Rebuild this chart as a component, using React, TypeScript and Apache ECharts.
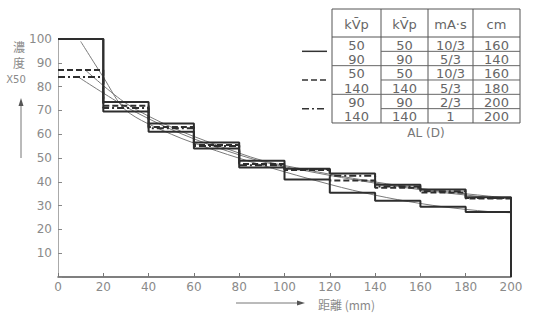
import React, { useEffect, useRef } from "react";
import * as echarts from "echarts";

const binEdges = [0, 20, 40, 60, 80, 100, 120, 140, 160, 180, 200];
const solidHigh = [100, 73.5, 64.5, 56.5, 48.8, 45.5, 43.5, 38.8, 36.8, 33.5];
const solidLow = [100, 69.5, 61, 54, 46, 41, 35.4, 32, 29.5, 27.3];
const dashed = [87, 72, 63, 55.5, 47.5, 45, 40.5, 37.5, 35.5, 33];
const dashDot = [84, 71, 62.5, 55, 47, 45.3, 42.5, 38, 36, 33.2];

const fitA = [[10, 99], [20, 84], [30, 70], [50, 60], [70, 53], [90, 47], [110, 41.5], [130, 36.5], [150, 32.5], [170, 29.5], [190, 27.5], [200, 27]];
const fitB = [[12, 87], [30, 73], [50, 63], [70, 55.5], [90, 49], [110, 45], [130, 41.5], [150, 38.5], [170, 36], [190, 34], [200, 33]];
const fitC = [[9, 84], [30, 71.5], [50, 62], [70, 54.5], [90, 48.5], [110, 44.5], [130, 41], [150, 38], [170, 35.5], [190, 33.5], [200, 33]];

const xTicks = [0, 20, 40, 60, 80, 100, 120, 140, 160, 180, 200];
const yTicks = [10, 20, 30, 40, 50, 60, 70, 80, 90, 100];

const tableHeader = ["kV\u0304p", "kV\u0304p", "mA·s", "cm"];
const tableRows = [
  ["50", "50", "10/3", "160"],
  ["90", "90", "5/3", "140"],
  ["50", "50", "10/3", "160"],
  ["140", "140", "5/3", "180"],
  ["90", "90", "2/3", "200"],
  ["140", "140", "1", "200"],
];
const tableCaption = "AL (D)";

function stepPoints(vals: number[]) {
  const pts: number[][] = [];
  vals.forEach((v, i) => {
    pts.push([binEdges[i], v]);
    pts.push([binEdges[i + 1], v]);
  });
  return pts;
}

export default function App() {
  const ref = useRef<HTMLDivElement>(null);
  useEffect(() => {
    if (!ref.current) return;
    const chart = echarts.init(ref.current, null, { renderer: "svg" });
    const txtColor = "#8a8a8a";
    const lineColor = "#2e2e2e";
    const font = "DejaVu Sans";

    const colX = [332, 381, 428, 473, 520];
    const tTop = 9;
    const hBottom = 37;
    const rowH = 14.33;
    const g: any[] = [];
    g.push({ type: "rect", shape: { x: colX[0], y: tTop, width: colX[4] - colX[0], height: hBottom + rowH * 6 - tTop }, style: { fill: "none", stroke: "#555", lineWidth: 1 } });
    g.push({ type: "line", shape: { x1: colX[0], y1: hBottom, x2: colX[4], y2: hBottom }, style: { stroke: "#555", lineWidth: 1 } });
    for (let i = 1; i < 4; i++) {
      g.push({ type: "line", shape: { x1: colX[i], y1: tTop, x2: colX[i], y2: hBottom + rowH * 6 }, style: { stroke: "#555", lineWidth: 1 } });
    }
    for (let r = 1; r < 6; r++) {
      const y = hBottom + rowH * r;
      const full = r % 2 === 0;
      g.push({ type: "line", shape: { x1: full ? colX[0] : colX[1], y1: y, x2: colX[4], y2: y }, style: { stroke: "#666", lineWidth: 1 } });
    }
    tableHeader.forEach((h, c) => {
      g.push({ type: "text", x: (colX[c] + colX[c + 1]) / 2, y: (tTop + hBottom) / 2 + 1, style: { text: h, fill: "#666", font: `13px "${font}"`, align: "center", verticalAlign: "middle" } });
    });
    tableRows.forEach((row, r) => {
      row.forEach((t, c) => {
        g.push({ type: "text", x: (colX[c] + colX[c + 1]) / 2, y: hBottom + rowH * r + rowH / 2 + 1, style: { text: t, fill: "#666", font: `13px "${font}"`, align: "center", verticalAlign: "middle" } });
      });
    });
    g.push({ type: "text", x: (colX[0] + colX[4]) / 2, y: 133, style: { text: tableCaption, fill: "#777", font: `12px "${font}"`, align: "center", verticalAlign: "middle" } });
    const legY = [hBottom + rowH, hBottom + rowH * 3, hBottom + rowH * 5];
    const legDash: any[] = ["solid", [6, 3], [7, 3, 2, 3]];
    legY.forEach((y, i) => {
      g.push({ type: "line", shape: { x1: 302, y1: y, x2: 327, y2: y }, style: { stroke: "#333", lineWidth: 1.5, lineDash: legDash[i] === "solid" ? null : legDash[i] } });
    });
    g.push({ type: "text", x: 19, y: 46, style: { text: "濃", fill: txtColor, font: `12px "Noto Sans CJK JP"`, align: "center", verticalAlign: "middle" } });
    g.push({ type: "text", x: 19, y: 62, style: { text: "度", fill: txtColor, font: `12px "Noto Sans CJK JP"`, align: "center", verticalAlign: "middle" } });
    g.push({ type: "text", x: 16, y: 79, style: { text: "X50", fill: txtColor, font: `10px "${font}"`, align: "center", verticalAlign: "middle" } });
    g.push({ type: "line", shape: { x1: 21, y1: 104, x2: 21, y2: 158 }, style: { stroke: "#777", lineWidth: 1 } });
    g.push({ type: "polygon", shape: { points: [[21, 98], [18.5, 106], [23.5, 106]] }, style: { fill: "#555" } });
    g.push({ type: "line", shape: { x1: 236, y1: 303, x2: 298, y2: 303 }, style: { stroke: "#777", lineWidth: 1 } });
    g.push({ type: "polygon", shape: { points: [[305, 303], [297, 300.5], [297, 305.5]] }, style: { fill: "#555" } });
    g.push({ type: "text", x: 318, y: 304, style: { text: "距離 (mm)", fill: txtColor, font: `12px "Noto Sans CJK JP"`, align: "left", verticalAlign: "middle" } });

    const stepSeries = (name: string, vals: number[], type: any, dropToZero = false) => {
      const data = stepPoints(vals);
      if (dropToZero) data.push([200, 0]);
      return {
        name,
        type: "line",
        data,
        showSymbol: false,
        symbol: "none",
        lineStyle: { color: lineColor, width: 2, type },
        z: 3,
      };
    };
    const fitSeries = (name: string, data: number[][]) => ({
      name,
      type: "line",
      data,
      smooth: 0.3,
      symbol: "none",
      lineStyle: { color: "#7a7a7a", width: 1 },
      z: 2,
    });

    chart.setOption({
      animation: false,
      backgroundColor: "#fff",
      grid: { left: 58, right: 22, top: 39, bottom: 45, containLabel: false },
      xAxis: {
        type: "value",
        min: 0,
        max: 200,
        interval: 20,
        axisLine: { lineStyle: { color: "#555", width: 1.5 } },
        axisTick: { inside: true, length: 4, lineStyle: { color: "#777" } },
        axisLabel: { color: txtColor, fontSize: 12, fontFamily: font, margin: 4, formatter: (v: number) => (xTicks.includes(v) ? String(v) : "") },
        splitLine: { show: false },
      },
      yAxis: {
        type: "value",
        min: 0,
        max: 100,
        interval: 10,
        axisLine: { show: true, lineStyle: { color: "#aaa", width: 1 } },
        axisTick: { inside: true, length: 4, lineStyle: { color: "#888" } },
        axisLabel: { color: txtColor, fontSize: 12, fontFamily: font, margin: 6, formatter: (v: number) => (yTicks.includes(v) ? String(v) : "") },
        splitLine: { show: false },
      },
      series: [
        fitSeries("fitA", fitA),
        fitSeries("fitB", fitB),
        fitSeries("fitC", fitC),
        stepSeries("solidHigh", solidHigh, "solid", true),
        stepSeries("solidLow", solidLow, "solid"),
        stepSeries("dashed", dashed, [6, 3]),
        stepSeries("dashDot", dashDot, [7, 3, 2, 3]),
      ],
      graphic: g,
    });
    return () => chart.dispose();
  }, []);
  return <div ref={ref} style={{ width: 533, height: 322, position: "absolute", left: 0, top: 0 }} />;
}
